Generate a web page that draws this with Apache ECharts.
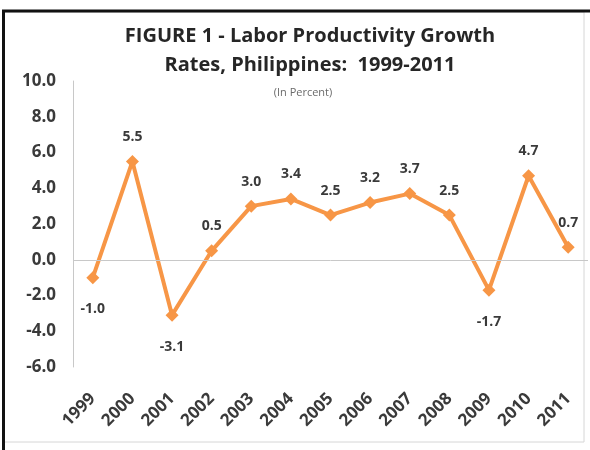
<!DOCTYPE html>
<html>
<head>
<meta charset="utf-8">
<script src="https://cdn.jsdelivr.net/npm/echarts@6/dist/echarts.min.js"></script>
<style>
  html, body { margin: 0; padding: 0; background: #ffffff; }
  #chart { width: 590px; height: 450px; }
</style>
</head>
<body>
<div id="chart"></div>
<script>
// Labor productivity growth rates, Philippines, 1999-2011 (in percent)
var years = ['1999', '2000', '2001', '2002', '2003', '2004', '2005', '2006', '2007', '2008', '2009', '2010', '2011'];
var growthRates = [-1.0, 5.5, -3.1, 0.5, 3.0, 3.4, 2.5, 3.2, 3.7, 2.5, -1.7, 4.7, 0.7];

var FONT = '"Open Sans", "Liberation Sans", sans-serif';
var TEXT = '#3a3a3a';
var ORANGE = '#F79646';

var chart = echarts.init(document.getElementById('chart'), null, { renderer: 'canvas' });

// positive values are labelled above the point, negative ones below
var pointData = growthRates.map(function (v) {
  return {
    value: v,
    label: {
      position: v < 0 ? 'bottom' : 'top',
      distance: v < 0 ? 18 : 11
    }
  };
});

chart.setOption({
  animation: false,
  backgroundColor: '#ffffff',
  title: [
    {
      text: 'FIGURE 1 - Labor Productivity Growth\nRates, Philippines:  1999-2011',
      left: 305,
      top: 17,
      textAlign: 'center',
      textStyle: {
        fontFamily: FONT,
        fontWeight: 'bold',
        fontSize: 20,
        lineHeight: 29,
        color: '#262626'
      }
    },
    {
      text: '(In Percent)',
      left: 298,
      top: 82,
      textAlign: 'center',
      textStyle: {
        fontFamily: FONT,
        fontWeight: 'normal',
        fontSize: 11,
        color: '#6b6b6b'
      }
    }
  ],
  grid: {
    left: 73,
    right: 2,
    top: 81,
    bottom: 83,
    containLabel: false
  },
  xAxis: {
    type: 'category',
    data: years,
    boundaryGap: true,
    axisLine: { show: false },
    axisTick: { show: false },
    splitLine: { show: false },
    axisLabel: {
      rotate: 45,
      margin: 29,
      interval: 0,
      fontFamily: FONT,
      fontWeight: 'bold',
      fontSize: 17,
      color: TEXT
    }
  },
  yAxis: {
    type: 'value',
    min: -6,
    max: 10,
    interval: 2,
    axisLine: { show: true, lineStyle: { color: '#c8c8c8', width: 1 } },
    axisTick: { show: false },
    splitLine: { show: false },
    axisLabel: {
      margin: 17,
      formatter: function (v) { return v.toFixed(1); },
      fontFamily: FONT,
      fontWeight: 'bold',
      fontSize: 17,
      color: TEXT
    }
  },
  series: [
    {
      type: 'line',
      data: pointData,
      symbol: 'diamond',
      symbolSize: 13,
      lineStyle: { color: ORANGE, width: 4 },
      itemStyle: { color: ORANGE },
      label: {
        show: true,
        formatter: function (p) { return p.value.toFixed(1); },
        fontFamily: FONT,
        fontWeight: 'bold',
        fontSize: 14,
        color: TEXT
      },
      markLine: {
        silent: true,
        symbol: 'none',
        label: { show: false },
        lineStyle: { color: '#c8c8c8', width: 1, type: 'solid' },
        data: [{ yAxis: 0 }]
      },
      z: 3
    }
  ],
  graphic: [
    // light outer frame
    {
      type: 'rect',
      shape: { x: 4, y: 12, width: 580, height: 430 },
      style: { fill: 'none', stroke: '#d6d6d6', lineWidth: 1 },
      silent: true
    },
    // dark top edge
    {
      type: 'line',
      shape: { x1: 2, y1: 11, x2: 590, y2: 11 },
      style: { stroke: '#111111', lineWidth: 3 },
      silent: true
    },
    // dark left edge
    {
      type: 'line',
      shape: { x1: 3.5, y1: 10, x2: 3.5, y2: 450 },
      style: { stroke: '#111111', lineWidth: 3 },
      silent: true
    }
  ]
});
</script>
</body>
</html>
